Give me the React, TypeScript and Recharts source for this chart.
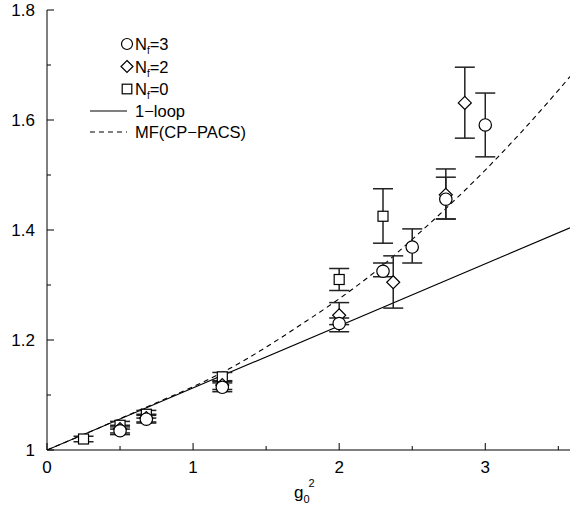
import React from "react";
import { ComposedChart, Line, Scatter, XAxis, YAxis, ErrorBar } from "recharts";

// ---- data ----
const nf0X = [0.25, 0.5, 0.68, 1.2, 2.0, 2.3];
const nf0V = [1.02, 1.045, 1.065, 1.133, 1.31, 1.425];
const nf0Lo = [1.015, 1.038, 1.058, 1.125, 1.29, 1.376];
const nf0Hi = [1.025, 1.052, 1.072, 1.141, 1.33, 1.475];

const nf2X = [0.5, 0.68, 1.2, 2.0, 2.37, 2.73, 2.86];
const nf2V = [1.038, 1.058, 1.118, 1.245, 1.305, 1.464, 1.631];
const nf2Lo = [1.031, 1.051, 1.11, 1.228, 1.258, 1.42, 1.567];
const nf2Hi = [1.045, 1.065, 1.126, 1.268, 1.353, 1.511, 1.696];

const nf3X = [0.5, 0.68, 1.2, 2.0, 2.3, 2.5, 2.73, 3.0];
const nf3V = [1.035, 1.056, 1.114, 1.23, 1.325, 1.369, 1.456, 1.591];
const nf3Lo = [1.028, 1.049, 1.106, 1.215, 1.315, 1.34, 1.42, 1.533];
const nf3Hi = [1.042, 1.063, 1.122, 1.24, 1.34, 1.402, 1.496, 1.649];

const loopX = [0, 3.58];
const loopV = [1.0, 1.404];

const mfX = [0, 0.25, 0.5, 0.75, 1.0, 1.25, 1.5, 1.75, 2.0, 2.25, 2.5, 2.75, 3.0, 3.25, 3.5, 3.58];
const mfV = [1.0, 1.028, 1.057, 1.086, 1.115, 1.148, 1.187, 1.23, 1.275, 1.325, 1.383, 1.444, 1.509, 1.579, 1.654, 1.679];

const xTicks = [0, 0.5, 1, 1.5, 2, 2.5, 3, 3.5];
const xLabels = ["0", "", "1", "", "2", "", "3", ""];
const yTicks = [1.0, 1.1, 1.2, 1.3, 1.4, 1.5, 1.6, 1.7, 1.8];
const yLabels = ["1", "", "1.2", "", "1.4", "", "1.6", "", "1.8"];

const legendNames = ["3", "2", "0"];

// ---- builders ----
const pts = (xs: number[], vs: number[], lo: number[], hi: number[]) =>
  xs.map((x, i) => ({ x, y: vs[i], err: [vs[i] - lo[i], hi[i] - vs[i]] }));
const linePts = (xs: number[], vs: number[]) => xs.map((x, i) => ({ x, y: vs[i] }));

const nf0 = pts(nf0X, nf0V, nf0Lo, nf0Hi);
const nf2 = pts(nf2X, nf2V, nf2Lo, nf2Hi);
const nf3 = pts(nf3X, nf3V, nf3Lo, nf3Hi);
const loop = linePts(loopX, loopV);
const mf = linePts(mfX, mfV);

const FONT = "'Liberation Sans', Arial, Helvetica, sans-serif";

const CircleShape = (p: any) => (
  <circle cx={p.cx} cy={p.cy} r={p.r ?? 6.2} fill="#fff" stroke="#000" strokeWidth={1.2} />
);
const DiamondShape = (p: any) => {
  const s = p.s ?? 6.5;
  return (
    <polygon
      points={`${p.cx},${p.cy - s} ${p.cx + s},${p.cy} ${p.cx},${p.cy + s} ${p.cx - s},${p.cy}`}
      fill="#fff"
      stroke="#000"
      strokeWidth={1.2}
    />
  );
};
const SquareShape = (p: any) => {
  const h = p.h ?? 5;
  return <rect x={p.cx - h} y={p.cy - h} width={2 * h} height={2 * h} fill="#fff" stroke="#000" strokeWidth={1.2} />;
};

const XTick = (p: any) => {
  const i = xTicks.indexOf(p.payload.value);
  const label = i >= 0 ? xLabels[i] : "";
  const major = label !== "";
  return (
    <g>
      <line x1={p.x} y1={p.y} x2={p.x} y2={p.y - (major ? 7 : 4)} stroke="#000" strokeWidth={1} />
      {label && (
        <text x={p.x} y={p.y + 23} textAnchor="middle" fontFamily={FONT} fontSize={17} fill="#000">
          {label}
        </text>
      )}
    </g>
  );
};

const YTick = (p: any) => {
  const v = p.payload.value;
  const i = yTicks.findIndex((t) => Math.abs(t - v) < 1e-6);
  const label = i >= 0 ? yLabels[i] : "";
  const major = label !== "";
  return (
    <g>
      <line x1={p.x} y1={p.y} x2={p.x + (major ? 7 : 4)} y2={p.y} stroke="#000" strokeWidth={1} />
      {label && (
        <text x={p.x - 12} y={p.y + 6} textAnchor="end" fontFamily={FONT} fontSize={17} fill="#000">
          {label}
        </text>
      )}
    </g>
  );
};

const XLabel = () => (
  <text x={294} y={498} fontFamily={FONT} fontSize={17} fill="#000">
    <tspan>g</tspan>
    <tspan fontSize={11} dy={5}>0</tspan>
    <tspan fontSize={11} dx={-1} dy={-16}>2</tspan>
  </text>
);

const Legend = () => {
  const rows = [44, 66.5, 89, 111, 132];
  return (
    <svg width={570} height={508} style={{ position: "absolute", left: 0, top: 0, pointerEvents: "none" }}>
      <CircleShape cx={127} cy={rows[0]} r={5.5} />
      <DiamondShape cx={127} cy={rows[1]} s={6} />
      <SquareShape cx={127} cy={rows[2]} h={4.8} />
      {legendNames.map((n, i) => (
        <text key={n} x={135} y={rows[i] + 6} fontFamily={FONT} fontSize={16.5} fill="#000">
          <tspan>N</tspan>
          <tspan fontSize={10} dy={4}>f</tspan>
          <tspan dy={-4}>={n}</tspan>
        </text>
      ))}
      <line x1={90} y1={rows[3]} x2={127} y2={rows[3]} stroke="#000" strokeWidth={1.1} />
      <text x={135} y={rows[3] + 6} fontFamily={FONT} fontSize={16.5} fill="#000">1−loop</text>
      <line x1={90} y1={rows[4]} x2={127} y2={rows[4]} stroke="#000" strokeWidth={1.1} strokeDasharray="5 4" />
      <text x={135} y={rows[4] + 6} fontFamily={FONT} fontSize={16.5} fill="#000">MF(CP−PACS)</text>
    </svg>
  );
};

export default function App() {
  return (
    <div style={{ position: "absolute", left: 0, top: 0, width: 570, height: 508, background: "#fff" }}>
      <ComposedChart width={570} height={508} margin={{ top: 10, right: 0, bottom: 0, left: 0 }}>
        <XAxis
          dataKey="x"
          type="number"
          domain={[0, 3.58]}
          allowDataOverflow
          ticks={xTicks}
          tick={<XTick />}
          tickSize={0}
          tickMargin={0}
          tickLine={false}
          height={58}
          axisLine={{ stroke: "#000", strokeWidth: 1 }}
          label={<XLabel />}
        />
        <YAxis
          dataKey="y"
          type="number"
          domain={[1, 1.8]}
          allowDataOverflow
          ticks={yTicks}
          tick={<YTick />}
          tickSize={0}
          tickMargin={0}
          tickLine={false}
          width={47}
          axisLine={{ stroke: "#000", strokeWidth: 1 }}
        />
        <Line data={loop} dataKey="y" type="linear" stroke="#000" strokeWidth={1.1} dot={false} isAnimationActive={false} />
        <Line data={mf} dataKey="y" type="monotone" stroke="#000" strokeWidth={1.1} strokeDasharray="5 4" dot={false} isAnimationActive={false} />
        <Scatter data={nf0} dataKey="y" shape={<SquareShape />} isAnimationActive={false}>
          <ErrorBar dataKey="err" direction="y" width={10} stroke="#222" strokeWidth={1.5} />
        </Scatter>
        <Scatter data={nf2} dataKey="y" shape={<DiamondShape />} isAnimationActive={false}>
          <ErrorBar dataKey="err" direction="y" width={10} stroke="#222" strokeWidth={1.5} />
        </Scatter>
        <Scatter data={nf3} dataKey="y" shape={<CircleShape />} isAnimationActive={false}>
          <ErrorBar dataKey="err" direction="y" width={10} stroke="#222" strokeWidth={1.5} />
        </Scatter>
      </ComposedChart>
      <Legend />
    </div>
  );
}
